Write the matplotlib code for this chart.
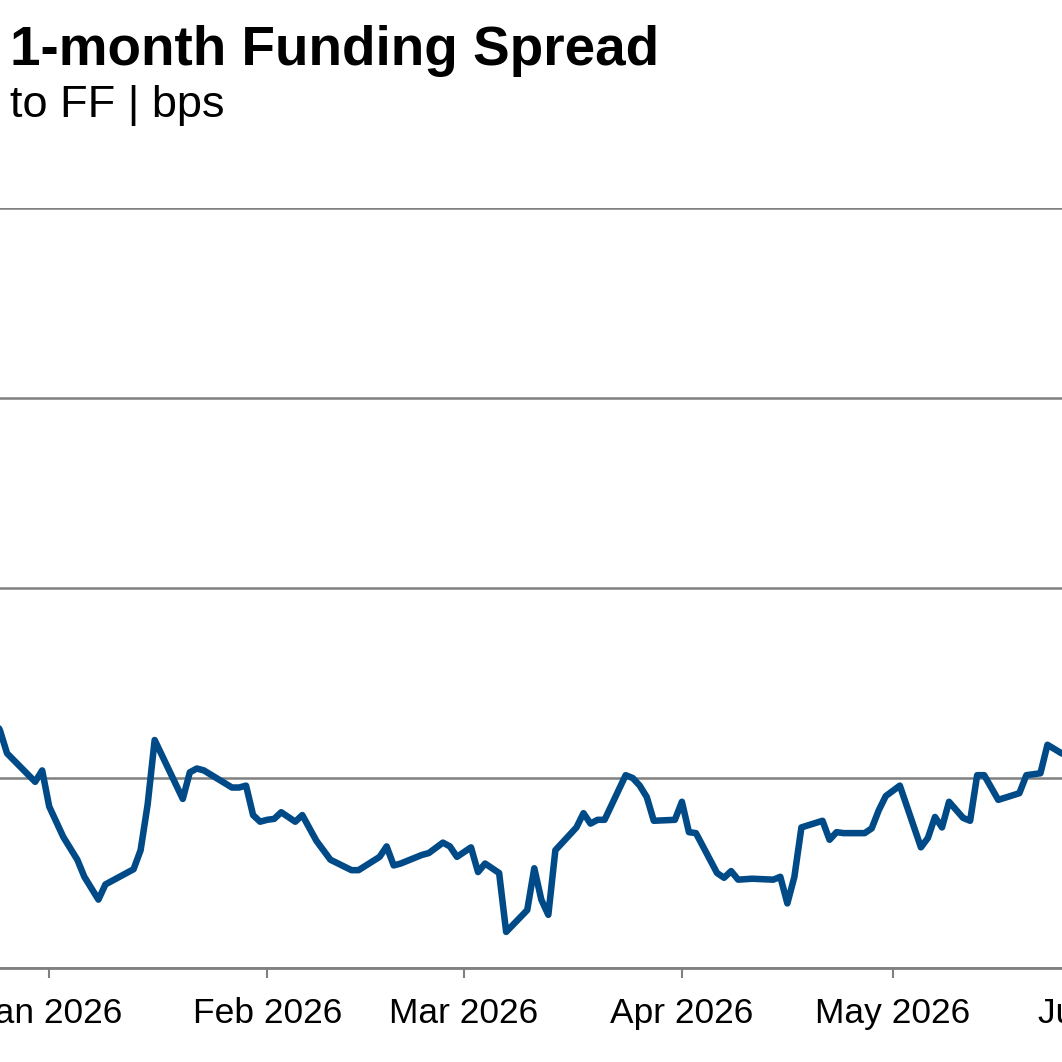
import matplotlib
matplotlib.use("Agg")
import matplotlib.pyplot as plt
import matplotlib.dates as mdates
import pandas as pd

plt.rcParams["font.family"] = ["Liberation Sans", "DejaVu Sans"]

TITLE = "1-month Funding Spread"
SUBTITLE = "to FF | bps"

DATES = [
    "2025-12-24", "2025-12-25", "2025-12-26", "2025-12-30", "2025-12-31",
    "2026-01-01", "2026-01-03", "2026-01-05", "2026-01-06", "2026-01-08",
    "2026-01-09", "2026-01-13", "2026-01-14", "2026-01-15", "2026-01-16",
    "2026-01-20", "2026-01-21", "2026-01-22", "2026-01-23", "2026-01-27",
    "2026-01-28", "2026-01-29", "2026-01-30", "2026-01-31", "2026-02-01",
    "2026-02-02", "2026-02-03", "2026-02-05", "2026-02-06", "2026-02-08",
    "2026-02-10", "2026-02-13", "2026-02-14", "2026-02-17", "2026-02-18",
    "2026-02-19", "2026-02-20", "2026-02-23", "2026-02-24", "2026-02-26",
    "2026-02-27", "2026-02-28", "2026-03-02", "2026-03-03", "2026-03-04",
    "2026-03-06", "2026-03-07", "2026-03-10", "2026-03-11", "2026-03-12",
    "2026-03-13", "2026-03-14", "2026-03-17", "2026-03-18", "2026-03-19",
    "2026-03-20", "2026-03-21", "2026-03-24", "2026-03-25", "2026-03-26",
    "2026-03-27", "2026-03-28", "2026-03-31", "2026-04-01", "2026-04-02",
    "2026-04-03", "2026-04-06", "2026-04-07", "2026-04-08", "2026-04-09",
    "2026-04-11", "2026-04-14", "2026-04-15", "2026-04-16", "2026-04-17",
    "2026-04-18", "2026-04-21", "2026-04-22", "2026-04-23", "2026-04-24",
    "2026-04-27", "2026-04-28", "2026-04-29", "2026-04-30", "2026-05-02",
    "2026-05-05", "2026-05-06", "2026-05-07", "2026-05-08", "2026-05-09",
    "2026-05-11", "2026-05-12", "2026-05-13", "2026-05-14", "2026-05-16",
    "2026-05-19", "2026-05-20", "2026-05-22", "2026-05-23", "2026-05-25",
    "2026-05-26",
]

SPREAD = [
    13.3, 12.5, 11.3, 9.8, 10.4,
    8.5, 6.9, 5.7, 4.8, 3.6,
    4.4, 5.2, 6.2, 8.6, 12.0,
    8.9, 10.3, 10.5, 10.4, 9.5,
    9.5, 9.6, 8.05, 7.7, 7.8,
    7.85, 8.2, 7.7, 8.05, 6.7,
    5.7, 5.15, 5.15, 5.85, 6.4,
    5.4, 5.5, 5.95, 6.05, 6.6,
    6.4, 5.85, 6.35, 5.05, 5.5,
    5.0, 1.9, 3.05, 5.25, 3.6,
    2.8, 6.2, 7.4, 8.15, 7.6,
    7.8, 7.8, 10.15, 10.0, 9.6,
    9.0, 7.75, 7.8, 8.75, 7.15,
    7.1, 5.0, 4.75, 5.1, 4.65,
    4.7, 4.65, 4.8, 3.4, 4.8,
    7.4, 7.75, 6.75, 7.15, 7.1,
    7.1, 7.35, 8.3, 9.05, 9.6,
    6.35, 6.85, 7.95, 7.4, 8.75,
    7.9, 7.75, 10.15, 10.15, 8.85,
    9.2, 10.15, 10.25, 11.75, 11.3,
    11.2,
]

Y_TICKS = [0, 10, 20, 30, 40]
X_START = "2025-12-25"
X_END = "2026-06-12"

LINE_COLOR = "#004B87"
GRID_COLOR = "#808080"

dates = pd.to_datetime(DATES)

fig = plt.figure(figsize=(10.62, 10.62), dpi=100)
# the axes run past the right edge of the figure so the chart looks cropped
ax = fig.add_axes([0.0, 0.0885, 1.1187, 0.7156])

ax.plot(dates, SPREAD, color=LINE_COLOR, linewidth=4.7, solid_joinstyle="round",
        solid_capstyle="round", zorder=3)

ax.set_xlim(pd.Timestamp(X_START), pd.Timestamp(X_END))
ax.set_ylim(Y_TICKS[0], Y_TICKS[-1])
ax.set_yticks(Y_TICKS)
ax.tick_params(axis="y", left=False, labelleft=False)
ax.yaxis.grid(True, color=GRID_COLOR, linewidth=1.8, zorder=1)
ax.set_axisbelow(True)

ax.xaxis.set_major_locator(mdates.MonthLocator())
ax.xaxis.set_major_formatter(mdates.DateFormatter("%b %Y"))
ax.tick_params(axis="x", direction="out", length=7, width=1.5, color=GRID_COLOR,
               labelsize=25.5, pad=14)

for side in ["top", "left", "right"]:
    ax.spines[side].set_visible(False)
ax.spines["bottom"].set_color(GRID_COLOR)
ax.spines["bottom"].set_linewidth(2)

fig.text(10 / 1062, 1 - 65 / 1062, TITLE, fontsize=39.5, fontweight="bold",
         ha="left", va="baseline")
fig.text(10 / 1062, 1 - 117 / 1062, SUBTITLE, fontsize=32.5,
         ha="left", va="baseline")

fig.savefig("out.png", dpi=100)
